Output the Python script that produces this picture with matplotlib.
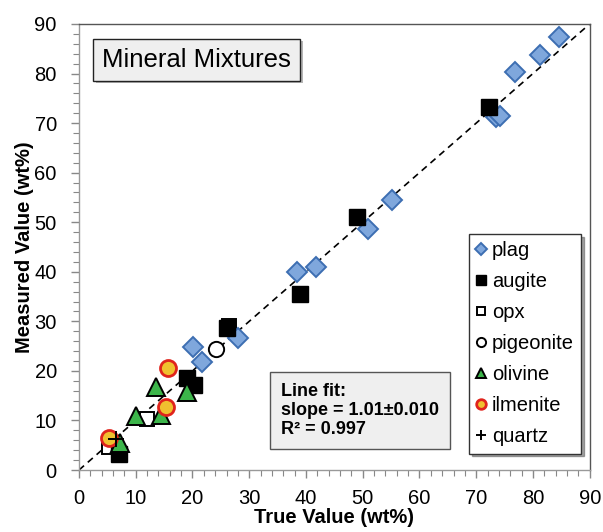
import matplotlib
matplotlib.use("Agg")
import matplotlib.pyplot as plt
from matplotlib.ticker import MultipleLocator
import matplotlib.patheffects as pe

plt.rcParams['font.family'] = ['Liberation Sans', 'DejaVu Sans']

plag_x = [84.5, 81.2, 76.9, 73.5, 74.2, 55.2, 51.0, 38.5, 41.8, 20.1, 21.7, 28.0]
plag_y = [87.3, 83.7, 80.4, 71.2, 71.5, 54.4, 48.6, 39.9, 41.0, 24.9, 21.8, 26.7]
augite_x = [72.2, 49.0, 38.9, 26.0, 19.0, 20.2, 7.1]
augite_y = [73.2, 51.1, 35.6, 28.7, 18.6, 17.1, 3.2]
opx_x = [26.4, 11.9, 5.3]
opx_y = [29.1, 10.2, 4.6]
pig_x = [24.2]
pig_y = [24.4]
oliv_x = [13.6, 19.1, 10.0, 14.4, 7.2]
oliv_y = [16.8, 15.8, 10.9, 11.1, 5.4]
ilm_x = [15.6, 15.4, 5.3]
ilm_y = [20.5, 12.8, 6.5]
qtz_x = [6.6]
qtz_y = [6.3]
line_x = [0, 90]

fig = plt.figure(figsize=(6.03, 5.32), dpi=100)
ax = fig.add_axes([0.131, 0.1165, 0.847, 0.8385])

ax.plot(line_x, line_x, ls=(0, (4, 3)), color='black', lw=1.2, zorder=1)

ax.plot(plag_x, plag_y, ls='none', marker='D', ms=10, mfc='#7fa7dc', mec='#3d6eb2', mew=1.4, label='plag', zorder=3)
ax.plot(opx_x, opx_y, ls='none', marker='s', ms=10.5, mfc='white', mec='black', mew=1.4, label='opx', zorder=2)
ax.plot(augite_x, augite_y, ls='none', marker='s', ms=11, mfc='black', mec='black', mew=1.0, label='augite', zorder=3)
ax.plot(pig_x, pig_y, ls='none', marker='o', ms=11, mfc='white', mec='black', mew=1.4, label='pigeonite', zorder=3)
ax.plot(oliv_x, oliv_y, ls='none', marker='^', ms=13, mfc='#3cb54a', mec='black', mew=1.4, label='olivine', zorder=3)
ax.plot(ilm_x, ilm_y, ls='none', marker='o', ms=11.5, mfc='#f0c02f', mec='#e0241c', mew=2.0, label='ilmenite', zorder=3)
ax.plot(qtz_x, qtz_y, ls='none', marker='+', ms=11, mec='black', mew=1.4, label='quartz', zorder=4)

ax.set_xlim(0, 90)
ax.set_ylim(0, 90)
ax.xaxis.set_major_locator(MultipleLocator(10))
ax.yaxis.set_major_locator(MultipleLocator(10))
ax.xaxis.set_minor_locator(MultipleLocator(2))
ax.yaxis.set_minor_locator(MultipleLocator(2))
ax.tick_params(which='major', direction='out', length=6, width=1, color='#888888', labelsize=14.5)
ax.tick_params(which='minor', direction='out', length=4, width=0.8, color='#888888')
ax.tick_params(axis='y', which='major', pad=10)
ax.tick_params(axis='x', which='major', pad=8)
for s in ax.spines.values():
    s.set_color('#555555')
    s.set_linewidth(1.0)
ax.spines['left'].set_color('#999999')
ax.spines['bottom'].set_color('#999999')

ax.set_xlabel('True Value (wt%)', fontsize=14.5, fontweight='bold', labelpad=0)
ax.set_ylabel('Measured Value (wt%)', fontsize=14.5, fontweight='bold', labelpad=0)

handles, labels = ax.get_legend_handles_labels()
order = ['plag', 'augite', 'opx', 'pigeonite', 'olivine', 'ilmenite', 'quartz']
hmap = dict(zip(labels, handles))
leg = ax.legend([hmap[k] for k in order], order, loc='lower right',
                bbox_to_anchor=(0.983, 0.037), fontsize=14.5, markerscale=0.6,
                handlelength=0.55, handletextpad=0.25, labelspacing=0.6,
                borderpad=0.35, borderaxespad=0, frameon=True, fancybox=False, shadow=True,
                edgecolor='#333333')
leg.get_frame().set_linewidth(1.0)

t = ax.text(0.045, 0.920, 'Mineral Mixtures', transform=ax.transAxes, fontsize=18.5,
            va='center', ha='left',
            bbox=dict(boxstyle='square,pad=0.35', fc='#efefef', ec='#222222', lw=1.0))
t.get_bbox_patch().set_path_effects([pe.SimplePatchShadow(offset=(2, -2), alpha=0.4), pe.Normal()])

ax.text(0.395, 0.133, 'Line fit:\nslope = 1.01\u00b10.010\nR\u00b2 = 0.997', transform=ax.transAxes,
        fontsize=13, fontweight='bold', va='center', ha='left', linespacing=1.15,
        bbox=dict(boxstyle='square,pad=0.6', fc='#efefef', ec='#555555', lw=1.0))

fig.savefig('out.png', dpi=100)
